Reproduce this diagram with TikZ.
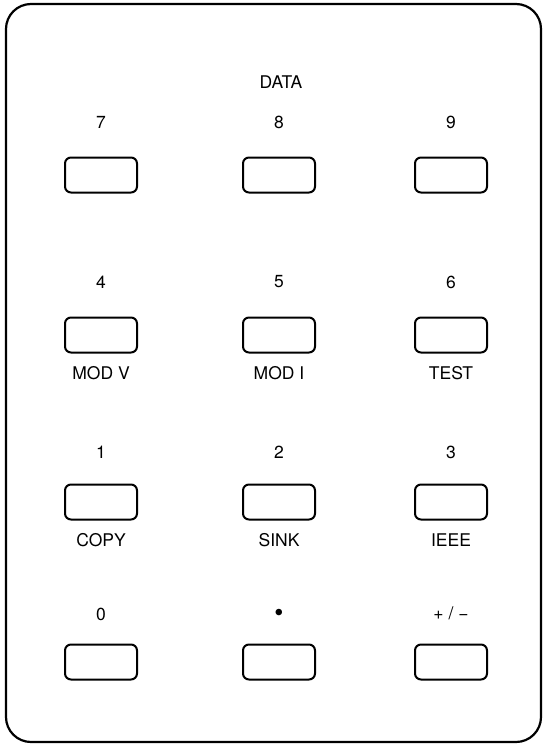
\documentclass[tikz,border=0pt]{standalone}
\usepackage{fontspec}
\setmainfont{TeX Gyre Heros}
\tikzset{
  key/.style={draw, line width=2pt, rounded corners=6pt, minimum width=72pt, minimum height=35pt, inner sep=0pt},
  toplabel/.style={font=\fontsize{17.5}{20}\selectfont, inner sep=0pt},
  sublabel/.style={font=\fontsize{17.5}{20}\selectfont, inner sep=0pt}
}
\begin{document}
\begin{tikzpicture}[x=1pt, y=-1pt]
    \useasboundingbox (0,0) rectangle (544,747);
    \draw[rounded corners=25pt, line width=2.2pt] (6,4) rectangle (541,742);

    \node[toplabel](DATA) at (281, 82) {DATA};

    % row 7 8 9
    \node[toplabel](L7) at (101, 122) {7};
    \node[toplabel](L8) at (279, 122) {8};
    \node[toplabel](L9) at (451, 122) {9};
    \node[key](K7) at (101, 175) {};
    \node[key](K8) at (279, 175) {};
    \node[key](K9) at (451, 175) {};

    % row 4 5 6
    \node[toplabel](L4) at (101, 282) {4};
    \node[toplabel](L5) at (279, 282) {5};
    \node[toplabel](L6) at (451, 282) {6};
    \node[key](K4) at (101, 335) {};
    \node[key](K5) at (279, 335) {};
    \node[key](K6) at (451, 335) {};
    \node[sublabel](S4) at (101, 373) {MOD V};
    \node[sublabel](S5) at (279, 373) {MOD I};
    \node[sublabel](S6) at (451, 373) {TEST};

    % row 1 2 3
    \node[toplabel](L1) at (101, 452) {1};
    \node[toplabel](L2) at (279, 452) {2};
    \node[toplabel](L3) at (451, 452) {3};
    \node[key](K1) at (101, 502) {};
    \node[key](K2) at (279, 502) {};
    \node[key](K3) at (451, 502) {};
    \node[sublabel](S1) at (101, 540) {COPY};
    \node[sublabel](S2) at (279, 540) {SINK};
    \node[sublabel](S3) at (451, 540) {IEEE};

    % row 0 . +/-
    \node[toplabel](L0) at (101, 614) {0};
    \node[toplabel, font=\fontsize{26}{26}\selectfont](LP) at (279, 615) {\textbullet};
    \node[toplabel](LS) at (451, 613) {+ / −};
    \node[key](K0) at (101, 662) {};
    \node[key](KP) at (279, 662) {};
    \node[key](KS) at (451, 662) {};
\end{tikzpicture}
\end{document}
